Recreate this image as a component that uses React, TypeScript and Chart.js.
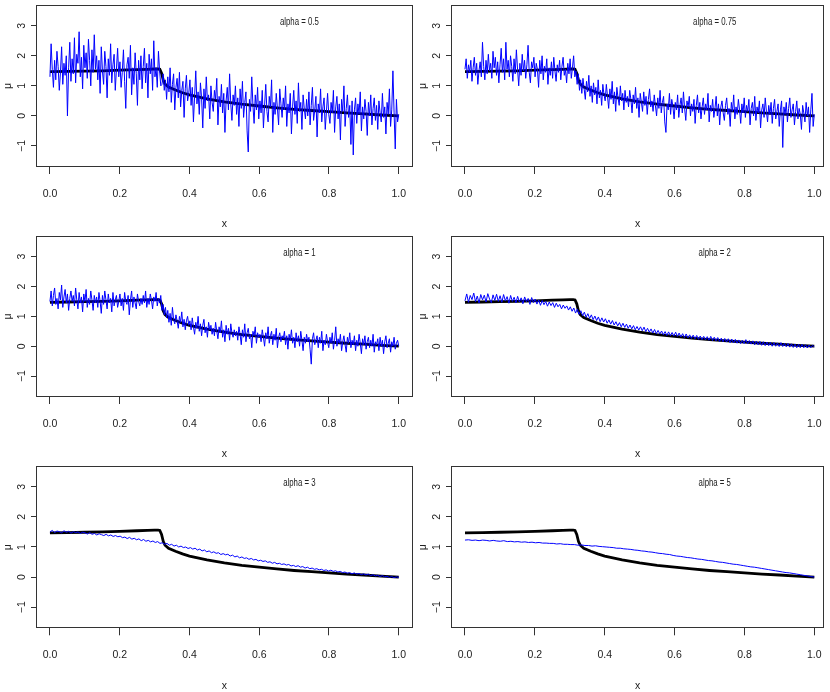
import React, { useEffect, useRef } from 'react';
import { Chart, registerables } from 'chart.js';

Chart.register(...registerables);

// ---------- data ----------
const xTicks = [0, 0.2, 0.4, 0.6, 0.8, 1.0];
const yTicks = [-1, 0, 1, 2, 3];
const alphaLabels = ['alpha = 0.5', 'alpha = 0.75', 'alpha = 1', 'alpha = 2', 'alpha = 3', 'alpha = 5'];

// true mean function (black)
const trueX = [0, 0.05, 0.1, 0.15, 0.2, 0.25, 0.28, 0.3, 0.31, 0.315, 0.32, 0.325, 0.33, 0.34, 0.36, 0.38, 0.4, 0.45, 0.5, 0.55, 0.6, 0.65, 0.7, 0.75, 0.8, 0.85, 0.9, 0.95, 1.0];
const trueY = [1.47, 1.48, 1.49, 1.5, 1.52, 1.54, 1.55, 1.56, 1.56, 1.55, 1.42, 1.18, 1.06, 0.96, 0.86, 0.77, 0.7, 0.57, 0.47, 0.39, 0.33, 0.27, 0.22, 0.18, 0.14, 0.1, 0.07, 0.03, 0.0];

// noisy estimates (blue), evenly spaced on [0, 1]
const blueA05 = [
  1.30, 2.40, 1.55, 0.95, 1.85, 1.20, 2.15, 1.65, 0.85, 1.45, 2.30, 1.05, 1.75, 1.35, 2.00, 0.00, 1.60, 2.45, 1.15, 1.90,
  1.40, 2.60, 1.10, 2.05, 1.75, 2.80, 1.30, 1.95, 0.90, 2.35, 1.60, 2.10, 1.25, 2.55, 1.85, 1.00, 2.20, 1.45, 2.70, 1.55,
  2.00, 1.20, 1.85, 0.75, 2.30, 1.50, 1.05, 2.15, 1.65, 0.60, 1.90, 1.35, 2.40, 1.10, 1.70, 2.05, 0.85, 1.55, 2.25, 1.30,
  1.80, 0.95, 1.45, 2.20, 1.15, 0.25, 1.70, 1.95, 1.25, 2.35, 0.70, 1.60, 1.05, 2.10, 1.40, 0.35, 1.85, 1.20, 2.00, 0.90,
  1.65, 2.25, 1.10, 1.75, 0.60, 2.05, 1.40, 1.90, 0.85, 2.50, 1.30, 1.60, 0.95, 2.15, 1.50, 1.00, 1.05, 1.40, 0.85, 1.20,
  0.55, 1.30, 0.80, 1.60, 0.45, 1.05, 1.40, 0.20, 0.95, 1.25, 0.60, 1.45, 0.30, 0.85, 1.15, -0.05, 0.90, 1.35, 0.50, 0.75,
  1.20, 0.35, 0.95, -0.20, 0.65, 1.50, 0.40, 0.80, 0.05, 1.10, 0.60, -0.40, 0.90, 0.25, 1.30, 0.50, 0.70, -0.10, 1.00, 0.45,
  0.15, 0.85, 0.55, 1.25, -0.30, 0.65, 0.30, 1.05, 0.10, 0.75, -0.55, 0.50, 0.95, 0.20, 1.40, 0.40, -0.15, 0.70, 0.35, 1.00,
  0.05, 0.60, -0.35, 0.90, 0.25, 1.15, -0.05, 0.45, 0.80, -0.50, -1.20, 0.55, 0.15, 1.30, 0.35, -0.25, 0.70, 0.20, 0.95, -0.10,
  0.50, 0.10, 0.85, -0.40, 0.35, 1.05, 0.15, -0.20, 0.65, 0.30, 1.20, -0.55, 0.45, 0.05, 0.75, 0.25, -0.30, 0.90, 0.40, -0.05,
  0.60, 0.20, 1.00, -0.35, 0.40, 0.10, 0.75, -0.60, 0.30, 0.85, 0.05, 0.50, -0.25, 1.10, 0.15, 0.45, -0.45, 0.70, 0.25, -0.10,
  0.55, 0.00, 0.80, -0.30, 0.35, 0.95, -0.15, 0.20, 0.65, -0.70, 0.40, 0.10, 0.90, -0.20, 0.30, 0.60, -0.45, 0.15, 0.75, 0.05,
  -0.25, 0.45, 0.10, 0.85, -0.55, 0.30, 0.65, -0.10, 0.40, -0.80, 0.55, 0.15, 1.00, -0.35, 0.25, 0.70, -0.05, 0.35, -0.95, 0.50,
  -1.30, 0.20, 0.60, -0.25, 0.40, 0.05, 0.80, -0.50, 0.30, -0.10, 0.55, 0.15, -0.65, 0.45, 0.00, 0.70, -0.30, 0.25, 0.60, -0.15,
  0.35, -0.45, 0.50, 0.10, -0.20, 0.75, -0.05, 0.30, -0.60, 0.45, 0.05, 0.90, -0.35, 0.20, 1.50, 0.10, -1.10, 0.55, -0.20, 0.05,
];
const blueA075 = [
  1.55, 1.90, 1.25, 1.70, 1.45, 1.85, 1.15, 1.60, 1.95, 1.35, 1.75, 1.05, 1.50, 1.80, 1.30, 2.45, 1.65, 1.20, 1.85, 1.40,
  2.05, 1.50, 1.75, 1.25, 2.15, 1.60, 1.95, 1.35, 1.80, 1.10, 1.70, 2.25, 1.45, 1.90, 1.20, 2.45, 1.55, 1.85, 1.30, 2.00,
  1.65, 1.15, 1.90, 1.40, 2.20, 1.55, 1.00, 1.75, 1.35, 2.05, 1.50, 1.85, 1.25, 1.70, 2.35, 1.45, 1.10, 1.80, 1.60, 1.95,
  1.30, 1.75, 1.55, 0.95, 1.85, 1.40, 2.00, 1.20, 1.65, 1.45, 1.90, 1.05, 1.60, 1.35, 1.80, 1.25, 1.95, 1.50, 1.15, 1.70,
  1.45, 1.85, 1.20, 1.65, 1.95, 1.35, 1.55, 1.10, 1.75, 1.40, 1.90, 1.25, 1.60, 2.00, 1.30, 1.50, 1.05, 1.40, 0.85, 1.20,
  0.75, 1.25, 0.90, 0.55, 1.15, 0.80, 1.35, 0.65, 1.00, 0.45, 1.10, 0.70, 0.95, 0.40, 1.20, 0.60, 0.85, 0.35, 1.05, 0.70,
  0.50, 1.05, 0.65, 0.25, 0.90, 0.55, 1.15, 0.40, 0.80, 0.15, 0.95, 0.60, 0.35, 1.00, 0.50, 0.75, 0.20, 0.85, 0.45, 0.65,
  0.30, 0.85, 0.55, 0.10, 0.70, 0.40, 0.95, 0.25, 0.60, -0.05, 0.75, 0.45, 0.15, 0.80, 0.35, 0.65, 0.05, 0.55, 0.90, 0.30,
  0.50, 0.15, 0.70, 0.35, 0.00, 0.60, 0.25, 0.85, 0.10, 0.45, 0.65, -0.20, -0.55, 0.40, 0.20, 0.75, 0.05, 0.55, 0.30, -0.10,
  0.45, 0.20, 0.70, -0.05, 0.35, 0.60, 0.10, 0.80, 0.25, -0.15, 0.50, 0.30, 0.65, 0.00, 0.40, 0.15, 0.55, -0.25, 0.35, 0.70,
  0.10, 0.45, -0.10, 0.30, 0.60, 0.05, 0.40, 0.20, 0.75, -0.20, 0.35, 0.15, 0.55, -0.05, 0.25, 0.65, 0.00, 0.40, -0.30, 0.30,
  0.50, 0.10, -0.15, 0.35, 0.60, 0.05, 0.25, -0.35, 0.45, 0.15, 0.70, -0.10, 0.30, 0.05, 0.55, 0.20, -0.25, 0.40, 0.10, 0.60,
  -0.05, 0.35, 0.15, 0.55, -0.30, 0.25, 0.45, 0.00, 0.65, -0.15, 0.30, 0.10, 0.50, -0.40, 0.20, 0.40, -0.05, 0.60, 0.15, -0.20,
  0.35, 0.05, 0.45, -0.25, 0.25, 0.55, -0.10, 0.15, 0.40, -0.35, 0.20, 0.50, -1.05, 0.30, 0.05, 0.45, -0.20, 0.25, 0.60, -0.05,
  0.20, 0.40, -0.30, 0.15, 0.50, -0.10, 0.25, 0.05, -0.45, 0.35, 0.10, -0.20, 0.45, 0.00, 0.30, -0.55, 0.20, 0.75, -0.35, 0.05,
];
const blueA1 = [
  1.50, 1.85, 1.35, 1.70, 1.95, 1.40, 1.60, 1.25, 1.80, 1.55, 2.05, 1.30, 1.65, 1.90, 1.45, 1.75, 1.20, 1.60, 1.85, 1.50,
  1.70, 1.35, 1.95, 1.55, 1.25, 1.80, 1.45, 1.65, 1.15, 1.75, 1.50, 1.90, 1.30, 1.60, 1.40, 1.85, 1.55, 1.20, 1.70, 1.45,
  1.65, 1.30, 1.80, 1.50, 1.10, 1.70, 1.40, 1.85, 1.55, 1.25, 1.75, 1.45, 1.60, 1.15, 1.80, 1.35, 1.55, 1.70, 1.30, 1.50,
  1.75, 1.35, 1.60, 1.20, 1.80, 1.50, 1.40, 1.70, 1.05, 1.55, 1.85, 1.30, 1.65, 1.45, 1.25, 1.75, 1.50, 1.35, 1.60, 1.40,
  1.70, 1.45, 1.85, 1.30, 1.60, 1.40, 1.75, 1.55, 1.25, 1.65, 1.50, 1.80, 1.35, 1.60, 1.45, 1.70, 1.20, 1.40, 1.05, 1.30,
  0.95, 1.20, 0.80, 1.10, 0.70, 1.30, 0.90, 0.75, 1.05, 0.85, 0.60, 1.00, 0.80, 1.15, 0.65, 0.90, 0.55, 0.85, 1.00, 0.70,
  0.85, 0.55, 0.95, 0.65, 0.40, 0.80, 0.60, 1.00, 0.50, 0.75, 0.35, 0.70, 0.90, 0.45, 0.65, 0.30, 0.80, 0.55, 0.70, 0.40,
  0.60, 0.35, 0.80, 0.50, 0.25, 0.65, 0.45, 0.85, 0.30, 0.55, 0.15, 0.70, 0.40, 0.60, 0.20, 0.75, 0.45, 0.30, 0.55, 0.35,
  0.50, 0.20, 0.65, 0.40, 0.05, 0.55, 0.30, 0.75, 0.15, 0.45, 0.60, 0.25, 0.40, -0.05, 0.50, 0.35, 0.65, 0.10, 0.45, 0.30,
  0.40, 0.15, 0.55, 0.30, 0.00, 0.45, 0.25, 0.65, 0.10, 0.35, 0.50, 0.05, 0.40, 0.20, 0.60, -0.05, 0.30, 0.45, 0.15, 0.35,
  0.25, 0.50, 0.05, 0.35, -0.10, 0.40, 0.20, 0.55, 0.10, 0.30, -0.05, 0.45, 0.15, 0.35, 0.00, 0.50, 0.20, -0.15, 0.30, 0.10,
  0.40, 0.15, 0.30, -0.10, -0.60, 0.25, 0.45, 0.05, 0.20, 0.35, -0.05, 0.30, 0.10, 0.50, -0.15, 0.20, 0.05, 0.40, 0.15, -0.05,
  0.30, 0.10, 0.45, -0.10, 0.20, 0.65, 0.00, 0.25, 0.10, 0.40, -0.15, 0.15, 0.35, 0.05, -0.20, 0.30, 0.10, 0.45, -0.05, 0.20,
  0.05, 0.35, -0.15, 0.20, 0.00, 0.40, 0.10, -0.25, 0.25, 0.05, 0.35, -0.10, 0.15, 0.30, -0.05, 0.20, 0.00, 0.40, -0.20, 0.15,
  0.05, 0.25, -0.15, 0.30, 0.00, 0.20, -0.25, 0.15, 0.35, -0.05, 0.10, 0.25, -0.20, 0.15, 0.00, 0.30, -0.10, 0.10, 0.20, 0.00,
];
const blueA2 = [
  1.52, 1.75, 1.47, 1.70, 1.56, 1.78, 1.49, 1.68, 1.45, 1.73, 1.55, 1.71, 1.48, 1.76, 1.58, 1.46, 1.72, 1.53, 1.74, 1.50,
  1.69, 1.47, 1.73, 1.52, 1.66, 1.44, 1.70, 1.50, 1.64, 1.45, 1.67, 1.48, 1.62, 1.42, 1.65, 1.49, 1.60, 1.40, 1.63, 1.46,
  1.58, 1.41, 1.55, 1.37, 1.53, 1.39, 1.50, 1.34, 1.48, 1.36, 1.46, 1.30, 1.44, 1.32, 1.40, 1.25, 1.38, 1.27, 1.35, 1.21,
  1.32, 1.17, 1.28, 1.11, 1.24, 1.07, 1.19, 1.02, 1.14, 0.97, 1.09, 0.93, 1.05, 0.89, 1.01, 0.86, 0.98, 0.82, 0.95, 0.81,
  0.92, 0.77, 0.88, 0.74, 0.86, 0.71, 0.82, 0.68, 0.79, 0.65, 0.77, 0.63, 0.74, 0.60, 0.71, 0.58, 0.69, 0.55, 0.66, 0.54,
  0.65, 0.52, 0.64, 0.49, 0.60, 0.47, 0.58, 0.44, 0.56, 0.42, 0.53, 0.41, 0.51, 0.38, 0.49, 0.36, 0.48, 0.35, 0.46, 0.34,
  0.47, 0.33, 0.44, 0.31, 0.42, 0.29, 0.41, 0.28, 0.38, 0.26, 0.37, 0.25, 0.36, 0.23, 0.34, 0.22, 0.33, 0.21, 0.32, 0.20,
  0.33, 0.19, 0.30, 0.18, 0.29, 0.16, 0.27, 0.15, 0.26, 0.14, 0.25, 0.12, 0.24, 0.11, 0.23, 0.10, 0.21, 0.09, 0.20, 0.09,
  0.22, 0.08, 0.19, 0.07, 0.18, 0.05, 0.17, 0.05, 0.16, 0.03, 0.15, 0.02, 0.14, 0.02, 0.13, 0.00, 0.12, 0.00, 0.11, -0.01,
  0.12, -0.01, 0.10, -0.02, 0.09, -0.03, 0.08, -0.04, 0.07, -0.05, 0.07, -0.05, 0.06, -0.05, 0.05, -0.06, 0.04, -0.05, 0.03, -0.02,
];
const blueA3 = [
  1.50, 1.55, 1.48, 1.53, 1.51, 1.47, 1.54, 1.49, 1.52, 1.46, 1.51, 1.48, 1.50, 1.45, 1.49,
  1.47, 1.43, 1.48, 1.42, 1.45, 1.40, 1.44, 1.41, 1.38, 1.42, 1.37, 1.40, 1.35, 1.38, 1.34,
  1.36, 1.31, 1.33, 1.28, 1.32, 1.26, 1.29, 1.24, 1.27, 1.21, 1.25, 1.19, 1.22, 1.17, 1.20,
  1.15, 1.18, 1.12, 1.14, 1.09, 1.12, 1.06, 1.09, 1.03, 1.06, 1.00, 1.03, 0.98, 1.00, 0.95,
  0.98, 0.93, 0.96, 0.90, 0.93, 0.87, 0.90, 0.84, 0.87, 0.81, 0.84, 0.79, 0.81, 0.75, 0.78,
  0.74, 0.76, 0.70, 0.73, 0.67, 0.70, 0.64, 0.67, 0.62, 0.64, 0.59, 0.62, 0.57, 0.59, 0.54,
  0.56, 0.52, 0.54, 0.49, 0.51, 0.46, 0.49, 0.44, 0.46, 0.42, 0.44, 0.40, 0.42, 0.37, 0.39,
  0.35, 0.38, 0.33, 0.35, 0.30, 0.33, 0.28, 0.30, 0.26, 0.28, 0.24, 0.26, 0.22, 0.24, 0.20,
  0.23, 0.19, 0.21, 0.17, 0.19, 0.15, 0.17, 0.13, 0.15, 0.11, 0.14, 0.10, 0.12, 0.08, 0.11,
  0.07, 0.10, 0.05, 0.08, 0.04, 0.06, 0.02, 0.05, 0.01, 0.03, -0.01, 0.02, -0.02, 0.01, -0.01,
];
const blueA5 = [
  1.23, 1.24, 1.22, 1.23, 1.21, 1.23, 1.22, 1.20, 1.22, 1.20, 1.19, 1.21, 1.18, 1.19, 1.17, 1.18, 1.16, 1.17, 1.15, 1.16,
  1.14, 1.15, 1.13, 1.13, 1.12, 1.12, 1.10, 1.11, 1.09, 1.09, 1.08, 1.08, 1.06, 1.07, 1.05, 1.05, 1.03, 1.04, 1.02, 1.01,
  1.00, 0.99, 0.98, 0.96, 0.96, 0.94, 0.93, 0.92, 0.90, 0.89, 0.87, 0.86, 0.84, 0.83, 0.81, 0.79, 0.78, 0.76, 0.75, 0.72,
  0.70, 0.69, 0.67, 0.65, 0.64, 0.62, 0.60, 0.59, 0.57, 0.55, 0.54, 0.52, 0.50, 0.49, 0.47, 0.45, 0.43, 0.42, 0.40, 0.38,
  0.36, 0.34, 0.33, 0.31, 0.29, 0.27, 0.25, 0.23, 0.21, 0.19, 0.17, 0.15, 0.14, 0.12, 0.10, 0.08, 0.06, 0.04, 0.02, 0.00,
];
const blueSeries = [blueA05, blueA075, blueA1, blueA2, blueA3, blueA5];

// ---------- layout / style ----------
const FONT_FAMILY = "'Liberation Sans', Arial, Helvetica, sans-serif";
const TEXT = '#222';
const LABEL_X = 0.715;
const LABEL_Y = 3.13;

function Panel({ idx }: { idx: number }) {
  const ref = useRef<HTMLCanvasElement>(null);
  const col = idx % 2;
  const row = Math.floor(idx / 2);
  const left = col * 415;
  const top = [0, 230, 460][row];
  const W = 415;
  const H = [230, 230, 232][row];
  const padTop = [5, 6, 6][row];
  const padRight = col === 0 ? 2.3 : 5.7;
  const xAxisH = [63, 63, 63.7][row];
  const xMax = col === 0 ? 1.04 : 1.0286;

  useEffect(() => {
    const vals = blueSeries[idx];
    const n = vals.length;
    const blueData = vals.map((v, i) => ({ x: i / (n - 1), y: v }));
    const blackData = trueX.map((x, i) => ({ x, y: trueY[i] }));
    const font = { family: FONT_FAMILY, size: 10.5 };
    const panelPlugin = {
      id: 'panelDecor',
      afterDatasetsDraw(chart: any) {
        const ctx = chart.ctx;
        const xs = chart.scales.x;
        const ys = chart.scales.y;
        ctx.save();
        ctx.font = `11.5px ${FONT_FAMILY}`;
        ctx.fillStyle = TEXT;
        ctx.textAlign = 'center';
        ctx.textBaseline = 'middle';
        const label = alphaLabels[idx];
        const w = ctx.measureText(label).width;
        ctx.fillText(label, xs.getPixelForValue(LABEL_X), ys.getPixelForValue(LABEL_Y), w * 0.68);
        const a = chart.chartArea;
        ctx.strokeStyle = '#333';
        ctx.lineWidth = 1;
        const l = Math.round(a.left) + 0.5;
        const t = Math.round(a.top) + 0.5;
        const r = Math.round(a.right) - 0.5;
        const b = Math.round(a.bottom) - 0.5;
        ctx.strokeRect(l, t, r - l, b - t);
        ctx.restore();
      },
    };
    const chart = new Chart(ref.current as HTMLCanvasElement, {
      type: 'line',
      data: {
        datasets: [
          { data: blueData, order: 0, borderColor: '#0000ff', borderWidth: 1, pointRadius: 0, tension: 0, fill: false },
          { data: blackData, order: 1, borderColor: '#000000', borderWidth: 2.8, pointRadius: 0, tension: 0, fill: false },
        ],
      },
      options: {
        responsive: false,
        animation: false,
        devicePixelRatio: 1,
        events: [],
        layout: { padding: { top: padTop, right: padRight, bottom: 0, left: 0 } },
        plugins: { legend: { display: false }, tooltip: { enabled: false } },
        scales: {
          x: {
            type: 'linear',
            min: -0.04,
            max: xMax,
            afterBuildTicks: (s: any) => { s.ticks = xTicks.map((v) => ({ value: v })); },
            afterFit: (s: any) => { s.height = xAxisH; s.paddingLeft = 0; s.paddingRight = 0; s.paddingTop = 0; s.paddingBottom = 0; },
            border: { display: false },
            grid: { drawOnChartArea: false, drawTicks: true, tickLength: 7, color: '#333', lineWidth: 1 },
            ticks: {
              autoSkip: false, maxRotation: 0, minRotation: 0, padding: 13.5, color: TEXT, font,
              callback: (v: any) => Number(v).toFixed(1),
            },
            title: { display: true, text: 'x', color: TEXT, font, padding: { top: 0, bottom: 0 } },
          },
          y: {
            type: 'linear',
            min: -1.7,
            max: 3.69,
            afterBuildTicks: (s: any) => { s.ticks = yTicks.map((v) => ({ value: v })); },
            afterFit: (s: any) => { s.width = 36; s.paddingLeft = 0; s.paddingRight = 0; s.paddingTop = 0; s.paddingBottom = 0; },
            border: { display: false },
            grid: { drawOnChartArea: false, drawTicks: true, tickLength: 5, color: '#333', lineWidth: 1 },
            ticks: {
              autoSkip: false, minRotation: 90, maxRotation: 90, crossAlign: 'center', padding: 3, color: TEXT, font,
              callback: (v: any) => (Number(v) < 0 ? '\u2212' + Math.abs(Number(v)) : String(v)),
            },
            title: { display: true, text: 'μ', color: TEXT, font, padding: { top: 2, bottom: 0 } },
          },
        },
      },
      plugins: [panelPlugin],
    } as any);
    return () => chart.destroy();
  }, [idx]);

  return (
    <canvas
      ref={ref}
      width={W}
      height={H}
      style={{ position: 'absolute', left, top, width: W, height: H }}
    />
  );
}

export default function App() {
  return (
    <div style={{ position: 'absolute', left: 0, top: 0, width: 830, height: 692, background: '#fff' }}>
      {[0, 1, 2, 3, 4, 5].map((i) => (
        <Panel key={i} idx={i} />
      ))}
    </div>
  );
}
